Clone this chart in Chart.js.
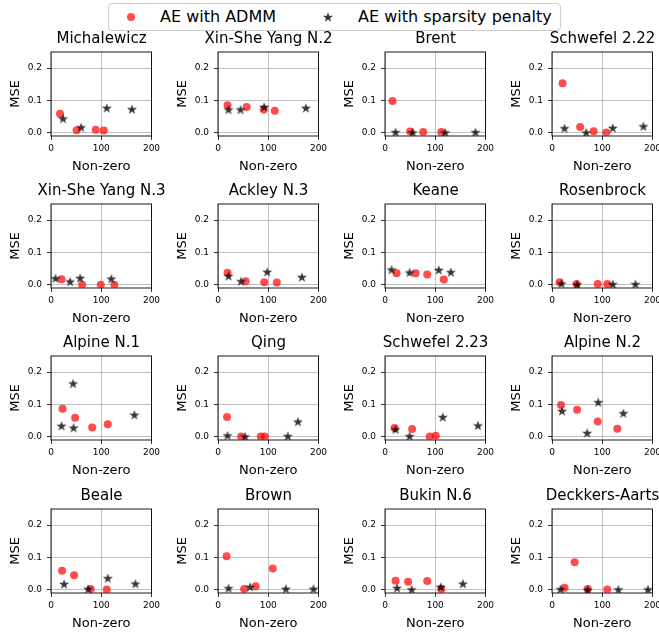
<!DOCTYPE html>
<html>
<head>
<meta charset="utf-8">
<script src="https://cdn.jsdelivr.net/npm/chart.js@4"></script>
<style>
  body { margin: 0; background: #fff; font-family: "DejaVu Sans", sans-serif; }
  #wrap { position: relative; width: 659px; height: 633px; overflow: hidden; }
  .panel { position: absolute; }
  #legend {
    position: absolute; left: 108px; top: 3px; width: 451px; height: 26px;
    border: 1px solid #cccccc; border-radius: 4px; background: #fff;
    font-size: 16px; color: #000; z-index: 5;
  }
  #legend span { position: absolute; top: 3px; white-space: nowrap; }
  #legend .dot { position: absolute; width: 8px; height: 8px; border-radius: 50%; background: rgba(255,0,0,0.7); top: 9px; }
  #legend canvas { position: absolute; top: 7px; }
</style>
</head>
<body>
<div id="wrap">
  <div id="legend">
    <div class="dot" style="left:18px"></div>
    <span style="left:51px">AE with ADMM</span>
    <canvas id="legStar" width="12" height="12" style="left:213px"></canvas>
    <span style="left:249px">AE with sparsity penalty</span>
  </div>
</div>
<script>
const titles = [
    'Michalewicz', 'Xin-She Yang N.2', 'Brent', 'Schwefel 2.22',
    'Xin-She Yang N.3', 'Ackley N.3', 'Keane', 'Rosenbrock',
    'Alpine N.1', 'Qing', 'Schwefel 2.23', 'Alpine N.2',
    'Beale', 'Brown', 'Bukin N.6', 'Deckkers-Aarts'
];

// AE with ADMM: non-zero count and MSE
const admmNonZero = [
    [18, 51, 89, 105], [19, 57, 91, 113], [15, 50, 76, 112], [21, 56, 83, 108],
    [21, 62, 99, 126], [19, 55, 92, 117], [23, 61, 84, 117], [15, 49, 91, 110],
    [23, 48, 82, 113], [18, 46, 85, 93], [19, 54, 89, 101], [18, 50, 91, 130],
    [22, 46, 79, 111], [17, 52, 75, 109], [21, 46, 84, 112], [25, 45, 71, 110]
];
const admmMSE = [
    [0.059, 0.008, 0.009, 0.007], [0.085, 0.080, 0.072, 0.068], [0.098, 0.004, 0.002, 0.002], [0.153, 0.018, 0.005, 0.001],
    [0.017, 0.000, 0.000, 0.000], [0.037, 0.011, 0.008, 0.007], [0.036, 0.036, 0.032, 0.016], [0.008, 0.002, 0.002, 0.002],
    [0.087, 0.059, 0.029, 0.039], [0.061, 0.001, 0.001, 0.001], [0.027, 0.024, 0.001, 0.003], [0.098, 0.084, 0.047, 0.025],
    [0.059, 0.045, 0.002, 0.001], [0.104, 0.002, 0.011, 0.066], [0.028, 0.025, 0.027, 0.002], [0.006, 0.085, 0.002, 0.001]
];

// AE with sparsity penalty: non-zero count and MSE
const sparseNonZero = [
    [24, 60, 111, 161], [21, 45, 92, 175], [21, 55, 120, 180], [25, 68, 121, 182],
    [9, 38, 58, 120], [21, 46, 98, 167], [13, 49, 107, 131], [19, 50, 121, 166],
    [21, 44, 45, 166], [19, 54, 139, 159], [21, 49, 115, 185], [20, 70, 92, 142],
    [26, 74, 113, 168], [21, 64, 135, 190], [24, 53, 111, 155], [17, 71, 132, 191]
];
const sparseMSE = [
    [0.044, 0.017, 0.077, 0.073], [0.072, 0.072, 0.080, 0.077], [0.002, 0.001, 0.001, 0.002], [0.014, 0.001, 0.015, 0.020],
    [0.020, 0.010, 0.021, 0.019], [0.027, 0.011, 0.040, 0.024], [0.047, 0.038, 0.046, 0.039], [0.004, 0.001, 0.002, 0.002],
    [0.034, 0.165, 0.028, 0.068], [0.004, 0.001, 0.002, 0.047], [0.023, 0.002, 0.061, 0.035], [0.080, 0.012, 0.107, 0.073],
    [0.018, 0.003, 0.036, 0.019], [0.005, 0.009, 0.003, 0.003], [0.006, 0.001, 0.009, 0.019], [0.002, 0.000, 0.001, 0.001]
];

const xTicks = [0, 100, 200];
const yTicks = [0, 0.1, 0.2];

const plotLefts = [51, 218, 385, 552];
const plotTops = [52, 203.5, 356, 508.5];

const FONT = 'DejaVu Sans';

// matplotlib-like filled 5-point star
function makeStar(canvas) {
    const c = canvas.getContext('2d');
    const cx = canvas.width / 2, cy = canvas.height / 2;
    const R = 5.3, r = R * 0.4;
    c.beginPath();
    for (let i = 0; i < 10; i++) {
        const rad = i % 2 === 0 ? R : r;
        const a = -Math.PI / 2 + i * Math.PI / 5;
        const px = cx + rad * Math.cos(a), py = cy + rad * Math.sin(a) + 0.5;
        if (i === 0) c.moveTo(px, py); else c.lineTo(px, py);
    }
    c.closePath();
    c.fillStyle = 'rgba(0,0,0,0.78)';
    c.fill();
    return canvas;
}
const starImg = document.createElement('canvas');
starImg.width = 12;
starImg.height = 12;
makeStar(starImg);
makeStar(document.getElementById('legStar'));

const frame = {
    id: 'frame',
    beforeDatasetsDraw(chart) {
        const a = chart.chartArea;
        const c = chart.ctx;
        c.save();
        c.strokeStyle = '#000';
        c.lineWidth = 0.9;
        c.strokeRect(a.left, a.top, a.right - a.left, a.bottom - a.top);
        c.restore();
    }
};

const wrap = document.getElementById('wrap');

titles.forEach((title, k) => {
    const row = Math.floor(k / 4), col = k % 4;
    const div = document.createElement('div');
    div.className = 'panel';
    div.style.left = (plotLefts[col] - 50) + 'px';
    div.style.top = (plotTops[row] - 30) + 'px';
    div.style.width = '201px';
    div.style.height = '154px';
    const cv = document.createElement('canvas');
    div.appendChild(cv);
    wrap.appendChild(div);

    const admm = admmNonZero[k].map((x, i) => ({x: x, y: admmMSE[k][i]}));
    const sparse = sparseNonZero[k].map((x, i) => ({x: x, y: sparseMSE[k][i]}));

    new Chart(cv, {
        type: 'scatter',
        data: {
            datasets: [
                {
                    label: 'AE with ADMM',
                    data: admm,
                    pointStyle: 'circle',
                    pointRadius: 4,
                    backgroundColor: 'rgba(255,0,0,0.7)',
                    borderWidth: 0,
                    order: 2
                },
                {
                    label: 'AE with sparsity penalty',
                    data: sparse,
                    pointStyle: starImg,
                    pointRadius: 5,
                    order: 1
                }
            ]
        },
        options: {
            responsive: true,
            maintainAspectRatio: false,
            animation: false,
            events: [],
            layout: { padding: 0 },
            plugins: {
                legend: { display: false },
                tooltip: { enabled: false },
                title: {
                    display: true,
                    text: title,
                    color: '#000',
                    font: { family: FONT, size: 15, weight: 'normal' },
                    padding: { top: 8, bottom: 4 }
                }
            },
            scales: {
                x: {
                    type: 'linear',
                    min: 0,
                    max: 200,
                    afterFit: s => { s.height = 40; },
                    afterBuildTicks: s => { s.ticks = xTicks.map(v => ({value: v})); },
                    grid: { color: '#b0b0b0', lineWidth: 0.8, tickLength: 4, tickColor: '#000', tickWidth: 0.8 },
                    border: { display: false },
                    ticks: {
                        color: '#000',
                        padding: 3,
                        maxRotation: 0,
                        font: { family: FONT, size: 9 },
                        callback: v => String(v)
                    },
                    title: {
                        display: true,
                        text: 'Non-zero',
                        color: '#000',
                        font: { family: FONT, size: 13 },
                        padding: { top: 0, bottom: 1.2 }
                    }
                },
                y: {
                    type: 'linear',
                    min: -0.01,
                    max: 0.25,
                    afterFit: s => { s.width = 50; },
                    afterBuildTicks: s => { s.ticks = yTicks.map(v => ({value: v})); },
                    grid: { color: '#b0b0b0', lineWidth: 0.8, tickLength: 4, tickColor: '#000', tickWidth: 0.8 },
                    border: { display: false },
                    ticks: {
                        color: '#000',
                        padding: 5,
                        font: { family: FONT, size: 9 },
                        callback: v => v.toFixed(1)
                    },
                    title: {
                        display: true,
                        text: 'MSE',
                        color: '#000',
                        font: { family: FONT, size: 13 },
                        padding: { top: 6.5, bottom: 0 }
                    }
                },
                // empty right-hand box, same width as the y axis, so the title centres over the plot
                yPad: {
                    type: 'linear',
                    position: 'right',
                    min: 0,
                    max: 1,
                    afterFit: s => { s.width = 50.5; },
                    grid: { display: false },
                    border: { display: false },
                    ticks: { display: false }
                }
            }
        },
        plugins: [frame]
    });
});
</script>
</body>
</html>
